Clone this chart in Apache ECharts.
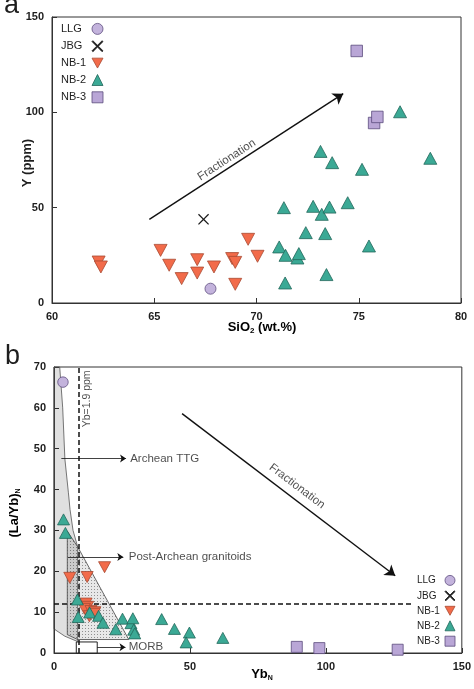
<!DOCTYPE html>
<html><head><meta charset="utf-8">
<script src="https://cdn.jsdelivr.net/npm/echarts@6/dist/echarts.min.js"></script>
<style>html,body{margin:0;padding:0;background:#fff}#c{width:474px;height:689px}</style>
</head><body><div id="c"></div>
<script>
// ---------- Panel a : SiO2 (wt.%) vs Y (ppm) ----------
const xTicksA = [60, 65, 70, 75, 80];
const yTicksA = [0, 50, 100, 150];
const llgA = [[67.75, 7.5]];
const jbgA = [[67.41, 43.9]];
const nb1A = [[62.28, 21.5], [62.39, 18.9], [65.31, 27.6], [65.73, 19.8], [66.34, 12.8], [67.10, 22.7], [67.10, 15.7],
  [67.92, 18.9], [68.81, 23.3], [68.96, 21.3], [68.96, 9.8], [69.59, 33.4], [70.05, 24.5]];
const nb2A = [[71.34, 50.0], [71.11, 29.4], [71.42, 25.0], [72.00, 23.6], [72.07, 25.9], [71.40, 10.5], [72.41, 36.9],
  [72.77, 50.7], [73.19, 46.5], [73.57, 50.3], [73.13, 79.5], [73.70, 73.6], [73.36, 36.4], [73.42, 14.9],
  [74.46, 52.6], [75.16, 70.1], [75.50, 29.9], [77.02, 100.3], [78.50, 75.9]];
const nb3A = [[74.90, 132.2], [75.75, 94.4], [75.91, 97.6]];
const fracArrowA = [[64.76, 43.9], [74.24, 109.8]];
const fracTextA = [68.54, 75.0];

// ---------- Panel b : YbN vs (La/Yb)N ----------
const xTicksB = [0, 50, 100, 150];
const yTicksB = [0, 10, 20, 30, 40, 50, 60, 70];
const llgB = [[3.3, 66.3]];
const nb1B = [[5.8, 18.4], [12.2, 18.6], [18.6, 21.0], [11.8, 12.1], [12.4, 11.3], [11.2, 10.8], [13.6, 10.3],
  [15.0, 10.0], [13.0, 9.0], [14.8, 9.6]];
const nb2B = [[3.5, 32.7], [4.2, 29.4], [8.6, 13.1], [8.9, 8.8], [13.1, 9.9], [16.4, 9.1], [18.0, 7.4], [22.7, 5.8],
  [25.2, 8.4], [28.3, 7.3], [29.0, 8.5], [29.3, 5.7], [29.7, 4.8], [39.6, 8.3], [44.3, 5.9], [49.8, 5.0],
  [48.6, 2.6], [62.1, 3.7]];
const nb3B = [[89.3, 1.5], [97.6, 1.2], [126.4, 0.8]];
const ttgField = [[0, 70], [2.1, 70], [3.2, 60], [4.0, 47.5], [5.3, 39.2], [5.9, 35.1], [7.0, 30], [8.7, 26],
  [8.7, 2.8], [4.0, 4.1], [0.4, 5.7], [0, 6]];
const postArcheanField = [[4.9, 29.8], [8.7, 26], [27.5, 3.3], [8.7, 3.3], [4.9, 4.5]];
const morbBox = [[8.2, 0], [15.9, 0], [15.9, 2.7], [8.2, 2.7]];
const ybLine = [[9.0, 0], [9.0, 70]];
const laybLine = [[0, 12], [132, 12]];
const fracArrowB = [[47.1, 58.6], [125.5, 18.9]];
const fracTextB = [89.4, 40.8];
const ttgArrow = [[2.7, 47.6], [26.5, 47.6]];
const postArrow = [[5.1, 23.5], [25.5, 23.5]];
const morbArrow = [[15.9, 1.4], [26.3, 1.4]];
const ttgText = [28.0, 47.6];
const postText = [27.5, 23.5];
const morbText = [27.5, 1.4];
const ybText = [12.1, 62.2];

const FONT = 'Liberation Sans, Arial, sans-serif';
const INK = '#1e1e1e';
const INV_TRI = 'path://M0,0L10,0L5,9Z';
const CROSS = 'path://M0,0.8L0.8,0L5,4.2L9.2,0L10,0.8L5.8,5L10,9.2L9.2,10L5,5.8L0.8,10L0,9.2L4.2,5Z';
const styles = {
  'LLG': {symbol: 'circle', color: '#c3b3dc', border: '#5f4f80'},
  'JBG': {symbol: CROSS, color: '#1a1a1a', border: '#1a1a1a'},
  'NB-1': {symbol: INV_TRI, color: '#f26b4a', border: '#a84a32'},
  'NB-2': {symbol: 'triangle', color: '#3ba995', border: '#22675a'},
  'NB-3': {symbol: 'rect', color: '#b9a6d6', border: '#5b4b7c'}
};

function sc(name, data, gi, size) {
  const s = styles[name];
  return {type: 'scatter', name, data, xAxisIndex: gi, yAxisIndex: gi, symbol: s.symbol, symbolSize: size,
    silent: true, z: 5,
    itemStyle: {color: s.color, borderColor: s.border, borderWidth: name === 'JBG' ? 0 : 0.8, opacity: 1}};
}
function ln(coords, gi, opts) {
  return Object.assign({type: 'lines', coordinateSystem: 'cartesian2d', xAxisIndex: gi, yAxisIndex: gi,
    silent: true, z: 3, polyline: false, data: [{coords}],
    lineStyle: {color: '#111', width: 1.4, opacity: 1, curveness: 0}}, opts || {});
}
function txt(pos, gi, text, opts) {
  const o = opts || {};
  return {type: 'scatter', xAxisIndex: gi, yAxisIndex: gi, silent: true, symbolSize: 0, z: 6,
    data: [{value: pos}],
    label: {show: true, formatter: text, position: o.position || 'inside', distance: o.distance || 0,
      rotate: o.rotate || 0, fontSize: o.fontSize || 11.5, color: INK, fontFamily: FONT}};
}
function poly(points, gi, style, z) {
  return {type: 'custom', xAxisIndex: gi, yAxisIndex: gi, silent: true, z: z, data: [[0, 0]],
    renderItem: function (params, api) {
      return {type: 'polygon', shape: {points: points.map(p => api.coord(p))}, style: style};
    }};
}

// stipple pattern
const pc = document.createElement('canvas');
pc.width = 3; pc.height = 3;
const pctx = pc.getContext('2d');
pctx.fillStyle = 'rgba(0,0,0,0.09)'; pctx.fillRect(0, 0, 3, 3);
pctx.fillStyle = 'rgba(0,0,0,0.38)'; pctx.fillRect(1, 1, 1, 1);

const axisCommon = {
  axisLine: {show: true, lineStyle: {color: '#333', width: 1}},
  axisTick: {show: true, inside: true, length: 5, lineStyle: {color: '#333'}},
  axisLabel: {fontSize: 11, fontWeight: 'bold', color: INK, fontFamily: FONT, margin: 8},
  splitLine: {show: false}
};
function ax(gi, min, max, interval, extra) {
  return Object.assign({type: 'value', gridIndex: gi, min, max, interval}, axisCommon, extra || {});
}

const legendData = [
  {name: 'LLG', icon: 'circle'}, {name: 'JBG', icon: CROSS}, {name: 'NB-1', icon: INV_TRI},
  {name: 'NB-2', icon: 'triangle'}, {name: 'NB-3', icon: 'rect'}];

const subRich = (big, small) => ({
  b: {fontSize: big, fontWeight: 'bold', fontFamily: FONT, color: INK, lineHeight: big, verticalAlign: 'top'},
  s: {fontSize: small, fontWeight: 'bold', fontFamily: FONT, color: INK, lineHeight: big + 8}
});
function legendOpt(left, top, size, gap, fs, w) {
  return {data: legendData, orient: 'vertical', left, top, align: 'right', itemWidth: size, itemHeight: size,
    itemGap: gap, selectedMode: false, formatter: '{n|{name}}',
    itemStyle: {borderWidth: 0.8},
    textStyle: {fontSize: fs, color: INK, fontFamily: FONT, lineHeight: size,
      rich: {n: {width: w, align: 'left', fontSize: fs, lineHeight: size, color: INK, fontFamily: FONT}}}};
}

const chart = echarts.init(document.getElementById('c'), null, {renderer: 'canvas'});
chart.setOption({
  animation: false,
  backgroundColor: '#fff',
  grid: [
    {left: 52, top: 17, width: 409, height: 286, show: true, borderColor: '#333', borderWidth: 1},
    {left: 54, top: 367, width: 409, height: 286, show: true, borderColor: '#333', borderWidth: 1}
  ],
  xAxis: [ax(0, xTicksA[0], xTicksA[xTicksA.length - 1], xTicksA[1] - xTicksA[0]),
          ax(1, xTicksB[0], xTicksB[xTicksB.length - 1], xTicksB[1] - xTicksB[0])],
  yAxis: [ax(0, yTicksA[0], yTicksA[yTicksA.length - 1], yTicksA[1] - yTicksA[0]),
          ax(1, yTicksB[0], yTicksB[yTicksB.length - 1], yTicksB[1] - yTicksB[0])],
  legend: [legendOpt(56, 18, 11, 5.5, 11, 26), legendOpt(412, 570, 10, 4.6, 10, 23)],
  graphic: [
    {type: 'text', x: 4, y: 6, style: {text: 'a', fontSize: 27, fontFamily: FONT, fill: INK, align: 'left', verticalAlign: 'middle'}},
    {type: 'text', x: 5, y: 357, style: {text: 'b', fontSize: 27, fontFamily: FONT, fill: INK, align: 'left', verticalAlign: 'middle'}},
    {type: 'text', x: 262, y: 331, style: {text: '{b|SiO}{s|2}{b| (wt.%)}', rich: subRich(13, 8), align: 'center', verticalAlign: 'middle'}},
    {type: 'text', x: 27, y: 163, rotation: Math.PI / 2, style: {text: 'Y (ppm)', fontSize: 13, fontWeight: 'bold', fontFamily: FONT, fill: INK, align: 'center', verticalAlign: 'middle'}},
    {type: 'text', x: 262, y: 678, style: {text: '{b|Yb}{s|N}', rich: subRich(13, 7), align: 'center', verticalAlign: 'middle'}},
    {type: 'text', x: 18, y: 513, rotation: Math.PI / 2, style: {text: '{b|(La/Yb)}{s|N}', rich: subRich(13, 7), align: 'center', verticalAlign: 'middle'}}
  ],
  series: [
    // panel a
    sc('NB-1', nb1A, 0, [13, 12]),
    sc('NB-2', nb2A, 0, [13, 12]),
    sc('NB-3', nb3A, 0, 11.5),
    sc('LLG', llgA, 0, 11),
    sc('JBG', jbgA, 0, 11),
    ln(fracArrowA, 0, {symbol: ['none', 'arrow'], symbolSize: 10}),
    txt(fracTextA, 0, 'Fractionation', {rotate: 33}),
    // panel b fields
    poly(ttgField, 1, {fill: 'rgba(0,0,0,0.12)', stroke: '#555', lineWidth: 0.8}, 1),
    poly(postArcheanField, 1, {fill: {image: pc, repeat: 'repeat'}, stroke: '#444', lineWidth: 0.8}, 1),
    poly(morbBox, 1, {fill: '#fff', stroke: '#222', lineWidth: 1}, 2),
    ln(ybLine, 1, {symbol: 'none', lineStyle: {color: '#111', width: 1.5, opacity: 1, type: [5, 3]}, z: 2}),
    ln(laybLine, 1, {symbol: 'none', lineStyle: {color: '#111', width: 1.5, opacity: 1, type: [5, 3]}, z: 2}),
    ln(fracArrowB, 1, {symbol: ['none', 'arrow'], symbolSize: 10}),
    ln(ttgArrow, 1, {symbol: ['none', 'arrow'], symbolSize: 6, lineStyle: {color: '#111', width: 0.8, opacity: 1}}),
    ln(postArrow, 1, {symbol: ['none', 'arrow'], symbolSize: 6, lineStyle: {color: '#111', width: 0.8, opacity: 1}}),
    ln(morbArrow, 1, {symbol: ['none', 'arrow'], symbolSize: 6, lineStyle: {color: '#111', width: 0.8, opacity: 1}}),
    txt(fracTextB, 1, 'Fractionation', {rotate: -37}),
    txt(ttgText, 1, 'Archean TTG', {position: 'right'}),
    txt(postText, 1, 'Post-Archean granitoids', {position: 'right'}),
    txt(morbText, 1, 'MORB', {position: 'right'}),
    txt(ybText, 1, 'Yb=1.9 ppm', {rotate: 90, fontSize: 10.5}),
    sc('NB-1', nb1B, 1, [12, 11]),
    sc('NB-2', nb2B, 1, [12, 11]),
    sc('NB-3', nb3B, 1, 11),
    sc('LLG', llgB, 1, 10.5)
  ]
});
</script>
</body></html>
